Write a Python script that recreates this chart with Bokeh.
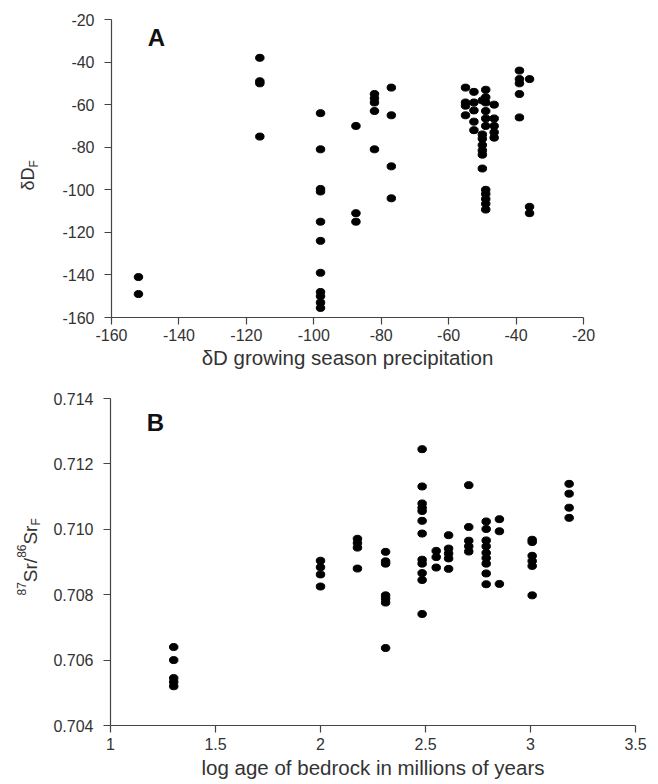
import math
from bokeh.plotting import figure
from bokeh.layouts import column, row
from bokeh.models import Range1d, FixedTicker, Label, ColumnDataSource, Title
from bokeh.embed import file_html
from bokeh.resources import INLINE

FONT = "Liberation Sans"
TXT = "#333333"
LINE = "#444444"

# ---------------- Panel A data ----------------
a_precip = [-152, -152,
            -116, -116, -116, -116,
            -98, -98, -98, -98, -98, -98, -98, -98, -98, -98, -98,
            -87.5, -87.5, -87.5,
            -82, -82, -82, -82, -82,
            -77, -77, -77, -77,
            -55, -55, -55, -55,
            -52.5, -52.5, -52.5, -52.5, -52.5,
            -50, -50, -50, -50, -50, -50, -50,
            -49, -49, -49, -49, -49, -49, -49, -49, -49, -49, -49,
            -46.5, -46.5, -46.5, -46.5, -46.5,
            -39, -39, -39, -39, -39,
            -36, -36, -36]
a_dDF = [-141, -149,
         -38, -49, -50, -75,
         -64, -81, -99.6, -100.8, -115, -124, -139, -148, -150, -153, -155.5,
         -70, -111, -115,
         -55, -57, -59, -63, -81,
         -52, -65, -89, -104,
         -52, -59, -60.5, -65,
         -54, -59, -62.7, -68, -72,
         -58, -74, -76, -79, -81.5, -83.5, -90,
         -53, -56.5, -59, -63, -66.5, -70, -100, -102, -104.3, -106.6, -109.3,
         -60, -66.5, -70, -73, -75.5,
         -44, -48, -50, -55, -66,
         -48, -108, -111]
a_ticks = [-160, -140, -120, -100, -80, -60, -40, -20]
a_labels = ["-160", "-140", "-120", "-100", "-80", "-60", "-40", "-20"]

# ---------------- Panel B data ----------------
b_logage = [1.301] * 5 + [2.0] * 4 + [2.176] * 4 + [2.31] * 7 + [2.484] * 12 + \
           [2.551] * 3 + [2.61] * 5 + [2.706] * 5 + [2.789] * 9 + [2.852] * 3 + \
           [3.008] * 6 + [3.184] * 4
b_sr = [0.7064, 0.7060, 0.70545, 0.70533, 0.7052,
        0.70904, 0.70884, 0.70862, 0.70825,
        0.70971, 0.70958, 0.70944, 0.70880,
        0.70931, 0.70902, 0.70895, 0.70798, 0.70788, 0.70776, 0.70637,
        0.71245, 0.71131, 0.71079, 0.71066, 0.71056, 0.71026, 0.70987, 0.70907, 0.70895, 0.70866, 0.70845, 0.70741,
        0.70934, 0.70915, 0.70883,
        0.70982, 0.70941, 0.70926, 0.70911, 0.70879,
        0.71135, 0.71007, 0.70965, 0.70948, 0.70932,
        0.71024, 0.71001, 0.70966, 0.70948, 0.70928, 0.70912, 0.70895, 0.70865, 0.70832,
        0.71031, 0.70994, 0.70833,
        0.70968, 0.70961, 0.70919, 0.70903, 0.70888, 0.70798,
        0.71139, 0.71109, 0.71066, 0.71035]
b_xticks = [1, 1.5, 2, 2.5, 3, 3.5]
b_xlabels = ["1", "1.5", "2", "2.5", "3", "3.5"]
b_yticks = [0.704, 0.706, 0.708, 0.710, 0.712, 0.714]
b_ylabels = ["0.704", "0.706", "0.708", "0.710", "0.712", "0.714"]

LW = 45  # width of the strip that carries the rotated y titles


def style(p):
    p.outline_line_color = None
    p.background_fill_color = "white"
    p.border_fill_color = "white"
    for ax in (p.xaxis[0], p.yaxis[0]):
        ax.axis_line_color = LINE
        ax.axis_line_width = 1.2
        ax.major_tick_line_color = LINE
        ax.major_tick_line_width = 1.2
        ax.major_tick_out = 7
        ax.major_tick_in = 0
        ax.minor_tick_line_color = None
        ax.major_label_text_font = FONT
        ax.major_label_text_font_size = "16px"
        ax.major_label_text_color = TXT
    p.xaxis[0].major_label_standoff = 4
    p.yaxis[0].major_label_standoff = 10
    p.xgrid.visible = False
    p.ygrid.visible = False


def xtitle(p, text, offset, standoff):
    p.add_layout(Title(text=text, align="center", offset=offset, standoff=standoff,
                       text_font=FONT, text_font_size="20.5px", text_font_style="normal",
                       text_color=TXT), "below")


def lab(p, text, sx, sy, size, angle=0.0, bold=False, align="center", baseline="middle", color=TXT):
    p.add_layout(Label(x=sx, y=sy, x_units="screen", y_units="screen", text=text, angle=angle,
                       text_font=FONT, text_font_size=f"{size}px",
                       text_font_style="bold" if bold else "normal",
                       text_color=color, text_align=align, text_baseline=baseline))


def strip(h):
    s = figure(width=LW, height=h, min_border=0, min_border_left=0, min_border_right=0,
               min_border_top=0, min_border_bottom=0,
               x_range=Range1d(0, 1), y_range=Range1d(0, 1),
               x_axis_location=None, y_axis_location=None,
               output_backend="svg", toolbar_location=None)
    s.outline_line_color = None
    s.xgrid.visible = False
    s.ygrid.visible = False
    s.background_fill_color = "white"
    s.border_fill_color = "white"
    return s


UP = math.pi / 2

# ---------------- Figure A ----------------
HA = 372
A_TOP, A_FH = 19, 298
pA = figure(frame_width=472, frame_height=A_FH, min_border_left=111 - LW, min_border_right=67,
            min_border_top=A_TOP, min_border_bottom=HA - A_TOP - A_FH,
            x_range=Range1d(-160, -20), y_range=Range1d(-160, -20),
            output_backend="svg", toolbar_location=None)
style(pA)
pA.xaxis[0].ticker = FixedTicker(ticks=a_ticks)
pA.yaxis[0].ticker = FixedTicker(ticks=a_ticks)
pA.xaxis[0].major_label_overrides = {t: l for t, l in zip(a_ticks, a_labels)}
pA.yaxis[0].major_label_overrides = {t: l for t, l in zip(a_ticks, a_labels)}
xtitle(pA, "δD growing season precipitation", -8, 0)
srcA = ColumnDataSource(dict(x=a_precip, y=a_dDF))
pA.ellipse(x="x", y="y", width=8.5, height=7, width_units="screen", height_units="screen",
           source=srcA, fill_color="black", line_color="black")
lab(pA, "A", 45, 280.5, 24, bold=True, color="#111111")

# strip frame is aligned with pA's frame: screen y counts up from its bottom (page y 317)
sA = strip(HA)
A_BOT = A_TOP + A_FH
lab(sA, "δD", 27.7, A_BOT - 178.5, 18, angle=UP)
lab(sA, "F", 33.8, A_BOT - 163.3, 12, angle=UP)

# ---------------- Figure B ----------------
HB = 409
B_TOP, B_FH = 26, 327
pB = figure(frame_width=525, frame_height=B_FH, min_border_left=110 - LW, min_border_right=15,
            min_border_top=B_TOP, min_border_bottom=HB - B_TOP - B_FH,
            x_range=Range1d(1, 3.5), y_range=Range1d(0.704, 0.714),
            output_backend="svg", toolbar_location=None)
style(pB)
pB.xaxis[0].ticker = FixedTicker(ticks=b_xticks)
pB.yaxis[0].ticker = FixedTicker(ticks=b_yticks)
pB.xaxis[0].major_label_overrides = {t: l for t, l in zip(b_xticks, b_xlabels)}
pB.yaxis[0].major_label_overrides = {t: l for t, l in zip(b_yticks, b_ylabels)}
pB.xaxis[0].major_label_standoff = 5
xtitle(pB, "log age of bedrock in millions of years", -22, 2)
srcB = ColumnDataSource(dict(x=b_logage, y=b_sr))
pB.ellipse(x="x", y="y", width=8.5, height=7, width_units="screen", height_units="screen",
           source=srcB, fill_color="black", line_color="black")
lab(pB, "B", 45, 303, 24, bold=True, color="#111111")

# strip frame aligned with pB's frame; reference frame bottom at page y 727
sB = strip(HB)
B_BOT = 727
lab(sB, "87", 20.8, B_BOT - 590.3, 12, angle=UP)
lab(sB, "Sr/", 30.4, B_BOT - 571.5, 19, angle=UP)
lab(sB, "86", 20.8, B_BOT - 552.7, 12, angle=UP)
lab(sB, "Sr", 30.4, B_BOT - 536.6, 19, angle=UP)
lab(sB, "F", 35.8, B_BOT - 523.4, 12, angle=UP)

layout = column(row(sA, pA, spacing=0), row(sB, pB, spacing=0), spacing=0)
open("out.html", "w").write(file_html(layout, INLINE))
